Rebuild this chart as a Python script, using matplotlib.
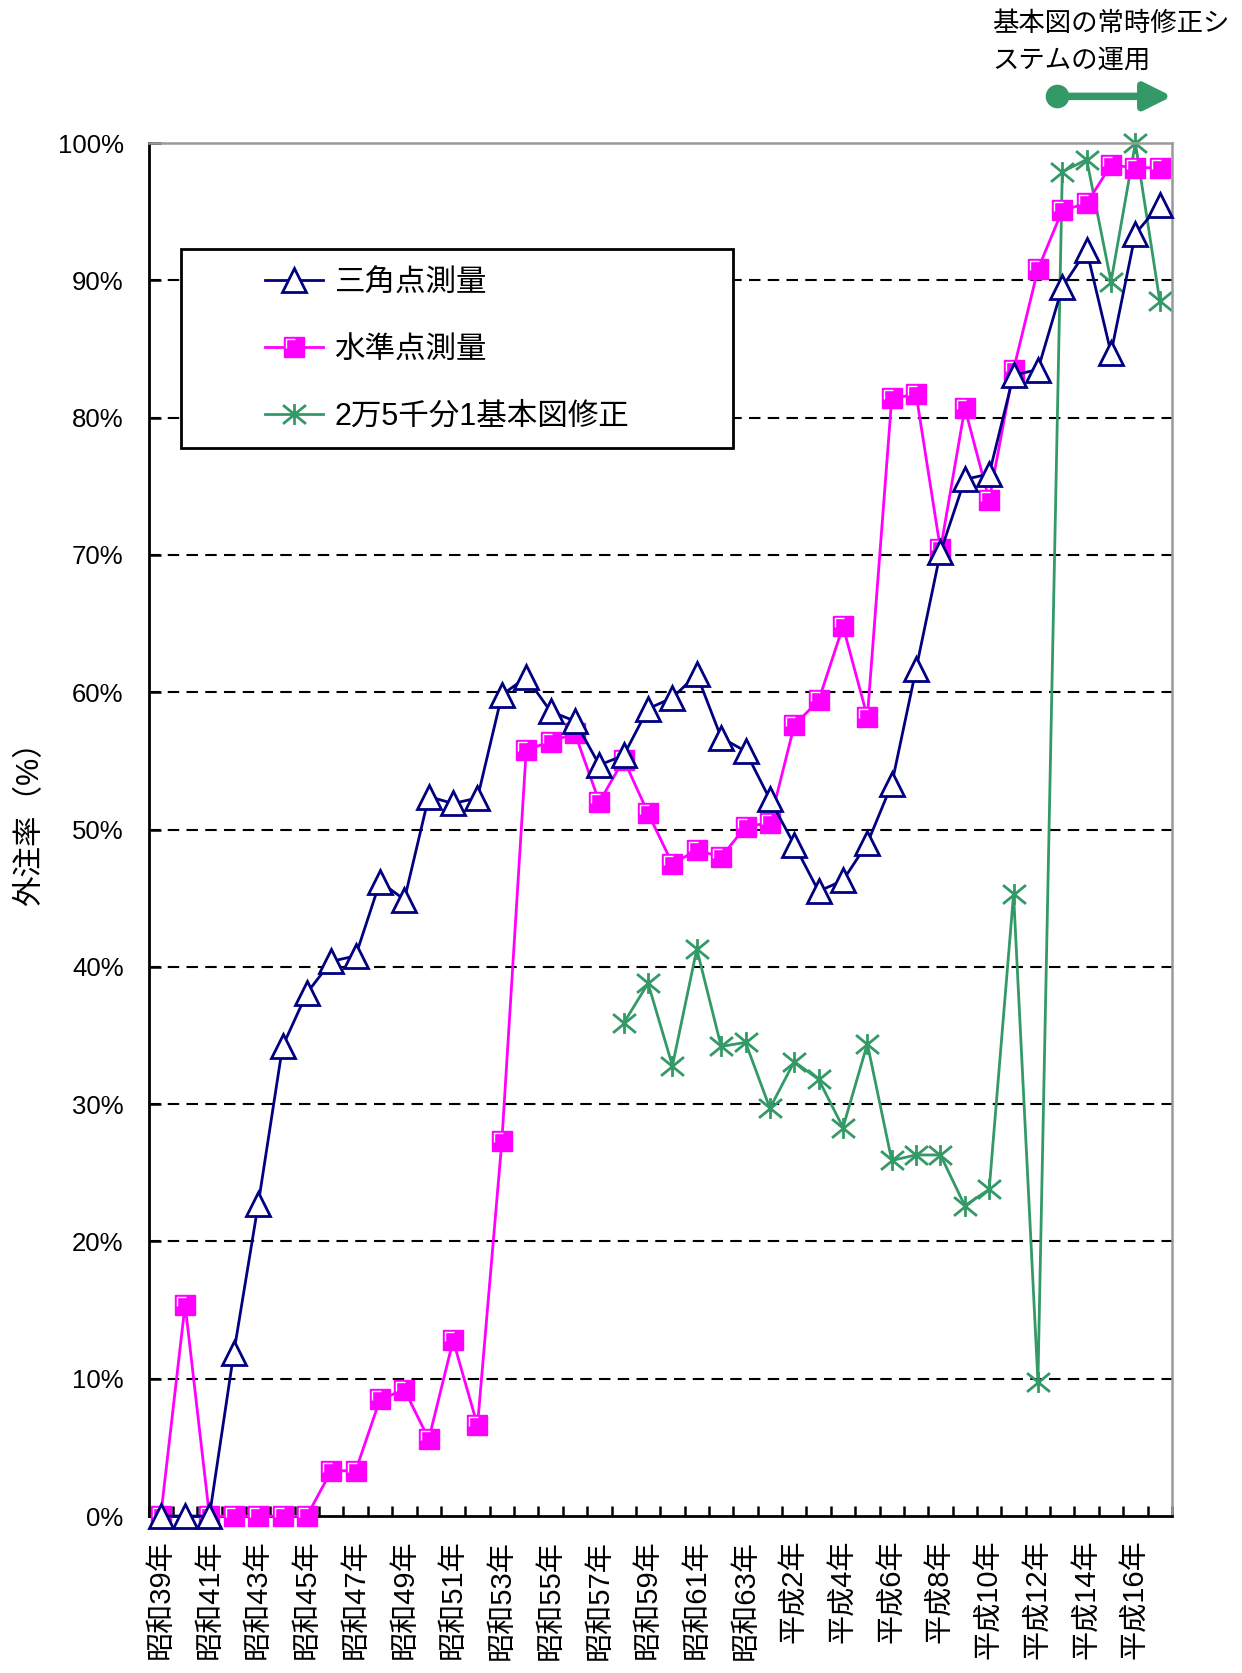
import numpy as np
import matplotlib
matplotlib.use("Agg")
import matplotlib.pyplot as plt
from matplotlib.path import Path
from matplotlib.patches import Rectangle
from matplotlib.legend_handler import HandlerTuple

plt.rcParams['font.family'] = ['Liberation Sans', 'Noto Sans CJK JP', 'DejaVu Sans']

# 年度 (昭和39年 ～ 平成17年)
years = ([f"昭和{n}年" for n in range(39, 64)] +
         [f"平成{n}年" for n in range(1, 18)])

# 外注率 (%)
sankaku = [0, 0, 0, 11.9, 22.7, 34.2, 38.1, 40.4, 40.8, 46.2,
           44.9, 52.4, 51.9, 52.3, 59.8, 61.1, 58.6, 57.9, 54.7, 55.4,
           58.8, 59.6, 61.3, 56.7, 55.7, 52.2, 48.9, 45.5, 46.3, 49.0,
           53.3, 61.7, 70.2, 75.5, 75.9, 83.1, 83.5, 89.5, 92.2, 84.7,
           93.4, 95.5]
suijun = [0, 15.4, 0, 0, 0, 0, 0, 3.3, 3.3, 8.5,
          9.2, 5.6, 12.8, 6.6, 27.3, 55.8, 56.4, 57.0, 52.0, 55.1,
          51.2, 47.5, 48.5, 48.0, 50.2, 50.5, 57.6, 59.4, 64.8, 58.2,
          81.4, 81.7, 70.4, 80.7, 74.0, 83.5, 90.8, 95.1, 95.6, 98.4,
          98.2, 98.2]
kihonzu = [np.nan] * 19 + [35.9, 38.8, 32.8, 41.3, 34.2, 34.5, 29.7, 33.1, 31.8, 28.3,
                           34.4, 25.9, 26.3, 26.3, 22.6, 23.8, 45.3, 9.8, 97.9, 98.8,
                           89.9, 100.0, 88.5]

ytick_vals = list(range(0, 101, 10))
ytick_labels = [f"{v}%" for v in ytick_vals]

navy = "#000080"
magenta = "#FF00FF"
green = "#339966"

fig = plt.figure(figsize=(12.42, 16.73), dpi=100)
ax = fig.add_axes([0.1196, 0.0938, 0.824, 0.8207])

x = np.arange(len(years))

# 破線グリッド
for v in ytick_vals[1:-1]:
    ax.axhline(v, color="black", lw=1.5, dashes=(5.5, 3.5), zorder=1)

l1, = ax.plot(x, sankaku, color=navy, lw=2.0, marker="^", ms=17,
              mfc="white", mec=navy, mew=2.0, clip_on=False, zorder=4)
l2, = ax.plot(x, suijun, color=magenta, lw=2.0, marker="s", ms=15,
              mfc=magenta, mec=magenta, mew=1.0, clip_on=False, zorder=3)
# 四角マーカーのハイライト
hl_path = Path([(-0.38, -0.05), (-0.38, 0.38), (0.05, 0.38)])
l2h, = ax.plot(x, suijun, ls="none", marker=hl_path, ms=11.5, mfc="none",
               mec="white", mew=1.0, clip_on=False, zorder=3)
# 米印マーカー
ast_path = Path([(0, -0.5), (0, 0.5), (-0.55, -0.45), (0.55, 0.45),
                 (-0.55, 0.45), (0.55, -0.45)],
                [Path.MOVETO, Path.LINETO, Path.MOVETO, Path.LINETO,
                 Path.MOVETO, Path.LINETO])
l3, = ax.plot(x, kihonzu, color=green, lw=2.0, marker=ast_path, ms=16.5,
              mfc="none", mec=green, mew=2.0, clip_on=False, zorder=2)

ax.set_xlim(-0.5, len(years) - 0.5)
ax.set_ylim(0, 100)

# 目盛
ax.set_xticks(np.arange(-0.5, len(years), 1))
ax.set_xticklabels([])
ax.set_xticks(x[::2], minor=True)
ax.set_xticklabels(years[::2], minor=True, rotation=90, fontsize=21)
ax.tick_params(axis="x", which="major", direction="in", length=7, width=1.8)
ax.tick_params(axis="x", which="minor", length=0, pad=17)

ax.set_yticks(ytick_vals)
ax.set_yticklabels(ytick_labels, fontsize=18.5)
ax.tick_params(axis="y", direction="in", length=8.5, width=1.8, pad=18)

for s in ["left", "bottom"]:
    ax.spines[s].set_linewidth(2.0)
    ax.spines[s].set_color("black")
for s in ["top", "right"]:
    ax.spines[s].set_linewidth(1.8)
    ax.spines[s].set_color("#999999")

fig.text(30 / 1242, 0.512, "外注率（%）", rotation=90, ha="center", va="center",
         fontsize=22)

# 凡例
ax.add_patch(Rectangle((0.0318, 0.778), 0.539, 0.1448, transform=ax.transAxes,
                       facecolor="white", edgecolor="black", lw=2.0, zorder=6))
leg = ax.legend([l1, (l2, l2h), l3], ["三角点測量", "水準点測量", "2万5千分1基本図修正"],
                handler_map={tuple: HandlerTuple(ndivide=1, pad=0)},
                loc="upper left", bbox_to_anchor=(0.114, 0.909), borderpad=0,
                borderaxespad=0, frameon=False, fontsize=22, handlelength=1.9,
                handletextpad=0.36, labelspacing=1.2)
leg.set_zorder(7)

# 常時修正システムの運用
fig.text(0.799, 1 - 24 / 1673, "基本図の常時修正シ", ha="left", va="center",
         fontsize=19)
fig.text(0.799, 1 - 61 / 1673, "ステムの運用", ha="left", va="center",
         fontsize=19)
ax.annotate("", xy=(len(years) - 0.5, 103.4), xytext=(36.8, 103.4),
            arrowprops=dict(arrowstyle="-|>,head_length=0.4,head_width=0.2",
                            color=green, lw=5.4, mutation_scale=41,
                            shrinkA=0, shrinkB=0),
            annotation_clip=False)
ax.plot([36.8], [103.4], marker="o", ms=16, color=green, clip_on=False)

fig.savefig("out.png", dpi=100)
